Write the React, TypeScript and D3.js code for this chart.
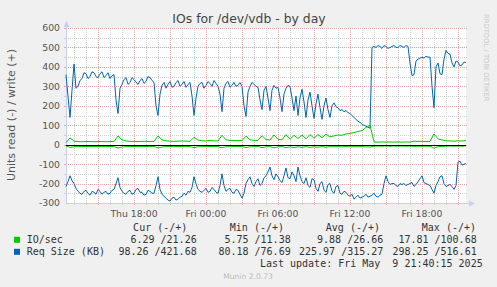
import React from 'react';
import * as d3 from 'd3';

// ---- data: Thu May 8 2025 12:20 -> Fri May 9 2025 21:40 ----
const START = new Date(2025, 4, 8, 12, 20, 0);
const SPAN_MIN = 2000;

// Req Size (KB), write (+), one sample every 10 minutes
const reqWrite = [
  360, 250, 140, 280, 415, 290, 300, 330, 340, 370,
  365, 340, 350, 375, 370, 350, 345, 365, 375, 345,
  355, 370, 340, 355, 360, 230, 160, 290, 310, 335,
  345, 310, 320, 345, 335, 320, 310, 330, 340, 315,
  325, 350, 345, 330, 320, 200, 150, 260, 305, 320,
  290, 310, 325, 295, 300, 320, 330, 300, 310, 325,
  295, 310, 320, 250, 150, 240, 300, 315, 320, 290,
  305, 325, 315, 300, 330, 315, 300, 260, 170, 290,
  315, 325, 295, 305, 320, 300, 305, 320, 300, 200,
  145, 270, 300, 320, 310, 300, 295, 230, 180, 280,
  300, 240, 175, 280, 305, 290, 295, 240, 170, 260,
  290, 305, 300, 240, 175, 250, 150, 240, 285, 220,
  140, 230, 270, 200, 135, 210, 260, 190, 130, 200,
  240, 180, 140, 200, 215, 195, 190, 175, 180, 170,
  175, 165, 160, 150, 140, 130, 120, 115, 105, 100,
  95, 90, 85, 500, 505, 500, 510, 505, 495, 510,
  505, 495, 500, 505, 510, 500, 500, 510, 505, 500,
  510, 505, 420, 355, 360, 430, 440, 445, 450, 445,
  455, 450, 450, 300, 190, 400, 420, 365, 360, 440,
  485, 470, 465, 420, 400, 430, 425, 405, 410, 425,
  422,
];

// Req Size (KB), read (-), one sample every 10 minutes
const reqRead = [
  -215, -190, -160, -185, -200, -225, -240, -250, -255, -240,
  -235, -250, -260, -240, -245, -255, -230, -240, -255, -245,
  -240, -255, -250, -235, -230, -200, -170, -220, -240, -250,
  -255, -240, -235, -255, -250, -230, -225, -245, -245, -260,
  -255, -235, -240, -250, -250, -210, -165, -230, -255, -265,
  -275, -285, -290, -275, -270, -285, -280, -270, -265, -250,
  -260, -240, -245, -220, -165, -200, -230, -240, -245, -235,
  -225, -245, -240, -220, -230, -245, -250, -210, -150, -210,
  -240, -230, -225, -245, -250, -230, -235, -255, -275, -250,
  -200, -180, -165, -200, -215, -190, -175, -210, -200, -170,
  -160, -140, -115, -160, -180, -150, -165, -185, -195, -160,
  -120, -170, -175, -140, -160, -190, -115, -160, -190, -200,
  -170, -210, -220, -175, -180, -225, -240, -200, -190, -235,
  -245, -205, -200, -240, -250, -215, -210, -250, -255, -240,
  -245, -260, -265, -255, -280, -270, -260, -275, -270, -265,
  -255, -270, -265, -260, -250, -265, -270, -260, -255, -200,
  -160, -190, -205, -200, -200, -210, -215, -200, -205, -200,
  -210, -205, -200, -195, -215, -205, -190, -175, -160, -195,
  -200, -205, -210, -230, -250, -210, -190, -165, -160, -200,
  -215, -210, -205, -215, -230, -210, -90, -85, -105, -100,
  -98,
];

// IO/sec, write (+), one sample every 20 minutes
const ioWrite = [
  11, 35, 18, 16, 15, 16, 16, 15, 16, 16,
  15, 16, 16, 45, 25, 19, 17, 17, 16, 17,
  17, 16, 17, 45, 25, 20, 18, 17, 18, 19,
  18, 17, 38, 24, 20, 19, 21, 20, 19, 48,
  25, 22, 21, 22, 21, 44, 25, 22, 22, 46,
  26, 24, 50, 27, 25, 52, 28, 48, 32, 50,
  30, 52, 33, 52, 36, 54, 40, 45, 50, 48,
  55, 58, 62, 68, 72, 88, 100, 14, 13, 14,
  13, 14, 13, 14, 13, 14, 13, 18, 17, 17,
  16, 17, 55, 30, 24, 20, 19, 18, 20, 19, 21,
];

// IO/sec, read (-), one sample every 20 minutes
const ioRead = [
  -6, -14, -11, -9, -10, -9, -10, -9, -10, -9,
  -10, -9, -10, -17, -12, -10, -9, -10, -9, -10,
  -9, -10, -9, -17, -12, -10, -9, -10, -9, -10,
  -9, -10, -15, -11, -10, -9, -10, -9, -10, -16,
  -11, -10, -9, -10, -9, -15, -11, -10, -9, -15,
  -11, -10, -16, -11, -10, -16, -11, -15, -11, -14,
  -10, -14, -11, -13, -10, -13, -10, -11, -10, -11,
  -10, -11, -10, -11, -10, -11, -12, -8, -7, -8,
  -7, -8, -7, -8, -7, -8, -7, -9, -8, -8,
  -8, -8, -18, -10, -9, -8, -7, -8, -7, -8, -6,
];

const yTickValues = [600, 500, 400, 300, 200, 100, 0, -100, -200, -300];
const legendHeaders = ['Cur (-/+)', 'Min (-/+)', 'Avg (-/+)', 'Max (-/+)'];
const ioStats = [[6.29, 21.26], [5.75, 11.38], [9.88, 26.66], [17.81, 100.68]];
const reqStats = [[98.26, 421.68], [80.18, 76.69], [225.97, 315.27], [298.25, 516.61]];
const seriesNames = ['IO/sec', 'Req Size (KB)'];
const seriesColors = ['#00CC00', '#0066B3'];

// ---- layout ----
const W = 497;
const H = 287;
const PL = 66;
const PR = 466;
const PT = 28;
const PB = 203;

const mono = '"DejaVu Sans Mono", monospace';
const sans = '"DejaVu Sans", sans-serif';

export default function App() {
  const END = new Date(START.getTime() + SPAN_MIN * 60000);
  const x = d3.scaleTime().domain([START, END]).range([PL, PR]);
  const y = d3.scaleLinear().domain([-300, 600]).range([PB, PT]);

  const makePath = (vals: number[]) => {
    const step = (SPAN_MIN * 60000) / (vals.length - 1);
    const gen = d3
      .line<number>()
      .x((_, i) => x(new Date(START.getTime() + i * step)))
      .y((d) => y(d));
    return gen(vals) || '';
  };

  const hours = d3.timeHour.range(START, END);
  const majorY = d3.range(-200, 601, 100);
  const minorY = d3.range(-250, 600, 100);
  const labelHours = hours.filter((h) => h.getHours() % 6 === 0);
  const fmt = d3.timeFormat('%a %H:%M');
  const px = (v: number) => Math.round(v) + 0.5;

  const gridMajor = '#E8A8A8';
  const gridMinor = '#CFCFCF';
  const axisCol = '#C6CEF4';

  const colEnds = [196.7, 290.7, 383.3, 476.7];
  const headerEnds = [187.3, 284, 380, 476];

  return (
    <svg
      width={W}
      height={H}
      style={{ position: 'absolute', left: 0, top: 0, display: 'block' }}
    >
      <rect x={0} y={0} width={W} height={H} fill="#F0F0F0" />
      <rect x={PL} y={PT} width={PR - PL} height={PB - PT} fill="#FFFFFF" />

      {/* minor grid */}
      {minorY.map((v) => (
        <g key={'mny' + v}>
          <line x1={PL} x2={PR + 1} y1={px(y(v))} y2={px(y(v))} stroke={gridMinor} strokeDasharray="1,1" />
          <line x1={PL - 2} x2={PL} y1={px(y(v))} y2={px(y(v))} stroke={gridMinor} />
        </g>
      ))}
      {hours
        .filter((h) => h.getHours() % 3 !== 0)
        .map((h) => (
          <g key={'mnx' + h.getTime()}>
            <line x1={px(x(h))} x2={px(x(h))} y1={PT} y2={PB} stroke={gridMinor} strokeDasharray="1,1" />
            <line x1={px(x(h))} x2={px(x(h))} y1={PB} y2={PB + 2} stroke={gridMinor} />
          </g>
        ))}
      {/* major grid */}
      {majorY.map((v) => (
        <g key={'mjy' + v}>
          <line x1={PL} x2={PR + 1} y1={px(y(v))} y2={px(y(v))} stroke={gridMajor} strokeDasharray="1,1" />
          <line x1={PL - 2} x2={PL} y1={px(y(v))} y2={px(y(v))} stroke={gridMajor} />
        </g>
      ))}
      {hours
        .filter((h) => h.getHours() % 3 === 0)
        .map((h) => (
          <g key={'mjx' + h.getTime()}>
            <line x1={px(x(h))} x2={px(x(h))} y1={PT} y2={PB} stroke={gridMajor} strokeDasharray="1,1" />
            <line x1={px(x(h))} x2={px(x(h))} y1={PB} y2={PB + 2} stroke={gridMajor} />
          </g>
        ))}

      {/* axes */}
      <line x1={PL + 0.5} x2={PL + 0.5} y1={PB} y2={24} stroke={axisCol} />
      <path d={`M${PL + 0.5},21 L${PL - 2.5},27 L${PL + 3.5},27 Z`} fill={axisCol} />
      <line x1={PL} x2={470} y1={PB + 0.5} y2={PB + 0.5} stroke={axisCol} />
      <path d={`M475,${PB + 0.5} L469,${PB - 2.5} L469,${PB + 3.5} Z`} fill={axisCol} />

      {/* data */}
      <path d={makePath(reqWrite)} fill="none" stroke={seriesColors[1]} strokeWidth={1} />
      <path d={makePath(reqRead)} fill="none" stroke={seriesColors[1]} strokeWidth={1} />
      <path d={makePath(ioWrite)} fill="none" stroke={seriesColors[0]} strokeWidth={1} />
      <path d={makePath(ioRead)} fill="none" stroke={seriesColors[0]} strokeWidth={1} />
      <line x1={PL} x2={PR} y1={px(y(0))} y2={px(y(0))} stroke="#000000" strokeWidth={1} />

      {/* y tick labels */}
      {yTickValues.map((v) => (
        <text
          key={'yt' + v}
          x={60}
          y={y(v) + 3.4}
          textAnchor="end"
          fontFamily={sans}
          fontSize={9.3}
          fill="#555"
        >
          {v}
        </text>
      ))}
      {/* x tick labels */}
      {labelHours.map((h) => (
        <text
          key={'xt' + h.getTime()}
          x={x(h)}
          y={216.5}
          textAnchor="middle"
          fontFamily={sans}
          fontSize={9.3}
          fill="#555"
        >
          {fmt(h)}
        </text>
      ))}

      {/* title */}
      <text x={249} y={23} textAnchor="middle" fontFamily={sans} fontSize={12.4} fill="#444">
        IOs for /dev/vdb - by day
      </text>
      {/* y axis title */}
      <text
        transform="translate(14.5,115) rotate(-90)"
        textAnchor="middle"
        fontFamily={sans}
        fontSize={11}
        fill="#555"
      >
        Units read (-) / write (+)
      </text>
      {/* rrdtool credit */}
      <text
        transform="translate(484,14) rotate(90)"
        fontFamily={sans}
        fontSize={6.8}
        fill="#C8C8C8"
      >
        RRDTOOL / TOBI OETIKER
      </text>

      {/* legend */}
      {legendHeaders.map((t, i) => (
        <text
          key={'lh' + i}
          x={headerEnds[i]}
          y={231}
          textAnchor="end"
          fontFamily={mono}
          fontSize={10}
          fill="#333"
          style={{ whiteSpace: 'pre' }}
        >
          {t}
        </text>
      ))}
      {[ioStats, reqStats].map((stats, r) => {
        const by = 243.3 + r * 12;
        return (
          <g key={'lr' + r}>
            <rect x={14} y={by - 6.5} width={6} height={6} fill={seriesColors[r]} />
            <text x={26.7} y={by} fontFamily={mono} fontSize={10} fill="#333">
              {seriesNames[r]}
            </text>
            {stats.map((s, c) => (
              <text
                key={'lv' + c}
                x={colEnds[c]}
                y={by}
                textAnchor="end"
                fontFamily={mono}
                fontSize={10}
                fill="#333"
                style={{ whiteSpace: 'pre' }}
              >
                {s[0].toFixed(2) + ' /' + s[1].toFixed(2)}
              </text>
            ))}
          </g>
        );
      })}
      <text
        x={482.7}
        y={267}
        textAnchor="end"
        fontFamily={mono}
        fontSize={10}
        fill="#333"
        style={{ whiteSpace: 'pre' }}
      >
        {'Last update: Fri May  9 21:40:15 2025'}
      </text>
      <text x={248} y={279} textAnchor="middle" fontFamily={sans} fontSize={7.6} fill="#BBBBBB">
        Munin 2.0.73
      </text>
    </svg>
  );
}
